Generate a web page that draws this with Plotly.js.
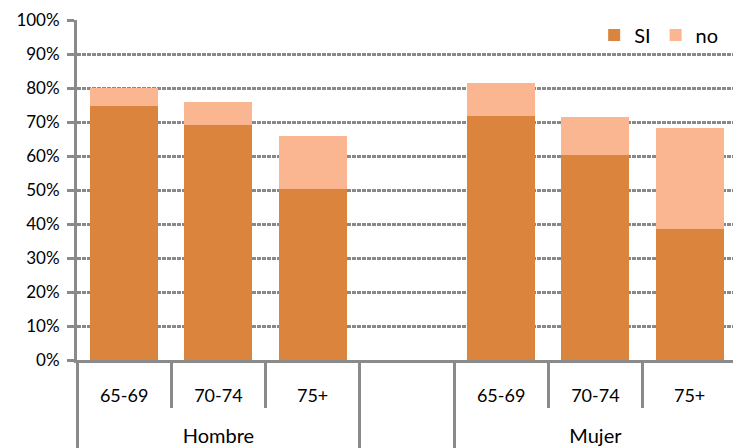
<!DOCTYPE html>
<html>
<head>
<meta charset="utf-8">
<script src="https://cdn.plot.ly/plotly-3.0.1.min.js"></script>
<style>html,body{margin:0;padding:0;background:#fff;}#chart{width:733px;height:448px;}</style>
</head>
<body>
<div id="chart"></div>
<script>
const groups = ["Hombre", "Hombre", "Hombre", " ", "Mujer", "Mujer", "Mujer"];
const ages = ["65-69", "70-74", "75+", " ", "65-69", "70-74", "75+"];
const siValues = [74.7, 69.1, 50.2, null, 71.9, 60.2, 38.6];
const noValues = [5.3, 6.7, 15.6, null, 9.6, 11.3, 29.6];
const yTickVals = [0, 10, 20, 30, 40, 50, 60, 70, 80, 90, 100];
const yTickText = ["0%", "10%", "20%", "30%", "40%", "50%", "60%", "70%", "80%", "90%", "100%"];

const FONT = "Lato, 'Open Sans', sans-serif";
const AX = "#8a8a8a";

// unique category keys built from the two label arrays
const keys = groups.map((g, i) => g + "|" + ages[i] + "|" + i);

// group label positions and boundaries derived from the arrays
const groupNames = [], groupCenters = [], groupBounds = [-0.5], innerBounds = [];
let start = 0;
for (let i = 1; i <= groups.length; i++) {
  if (i === groups.length || groups[i] !== groups[start]) {
    groupNames.push(groups[start]);
    groupCenters.push((start + i - 1) / 2);
    groupBounds.push(i - 0.5);
    for (let k = start + 1; k < i; k++) innerBounds.push(k - 0.5);
    start = i;
  }
}
const xRange = [-0.5, groups.length - 0.54];

const traces = [
  {type: "bar", name: "SI", x: keys, y: siValues,
   marker: {color: "#DB843D", line: {width: 0}}, hoverinfo: "none"},
  {type: "bar", name: "no", x: keys, y: noValues,
   marker: {color: "#F9B690", line: {width: 0}}, hoverinfo: "none"}
];

const plotTop = 20, plotBottom = 360, H = 448;
const yDomainStart = (H - plotBottom) / (H - plotTop);

const layout = {
  width: 733, height: H,
  margin: {l: 77, r: 0, t: plotTop, b: 0},
  paper_bgcolor: "#ffffff", plot_bgcolor: "#ffffff",
  barmode: "stack", bargap: 0.28,
  font: {family: FONT, size: 17, color: "#000"},
  showlegend: true,
  legend: {orientation: "h", x: 0.985, xanchor: "right", y: 0.965, yanchor: "middle",
           traceorder: "normal", font: {family: FONT, size: 20, color: "#000"},
           itemwidth: 30, bgcolor: "rgba(0,0,0,0)"},
  xaxis: {type: "category", range: xRange, tickvals: keys, ticktext: ages,
          showline: true, linecolor: AX, linewidth: 3, ticks: "",
          ticklabelstandoff: 17, showgrid: false, zeroline: false,
          tickfont: {family: FONT, size: 18, color: "#000"}},
  xaxis2: {type: "linear", overlaying: "x", anchor: "free", position: 0, side: "top",
           range: xRange, tickvals: groupCenters, ticktext: groupNames, ticks: "",
           showline: false, showgrid: false, zeroline: false, ticklabelstandoff: 1,
           tickfont: {family: FONT, size: 20, color: "#000"}},
  xaxis3: {type: "linear", overlaying: "x", anchor: "free", position: 0, side: "top",
           range: xRange, tickvals: groupBounds, ticks: "outside", ticklen: H - plotBottom,
           tickwidth: 3, tickcolor: AX, showticklabels: false,
           showline: false, showgrid: false, zeroline: false},
  xaxis4: {type: "linear", overlaying: "x", anchor: "y", side: "bottom",
           range: xRange, tickvals: innerBounds, ticks: "outside", ticklen: 47,
           tickwidth: 3, tickcolor: AX, showticklabels: false,
           showline: false, showgrid: false, zeroline: false},
  yaxis: {domain: [yDomainStart, 1], range: [0, 100], tickvals: yTickVals, ticktext: yTickText,
          showline: true, linecolor: AX, linewidth: 3,
          ticks: "outside", ticklen: 7, tickcolor: AX, tickwidth: 3, ticklabelstandoff: 4,
          showgrid: true, gridcolor: "#888888", gridwidth: 3, griddash: "4px,1px",
          zeroline: false, tickfont: {family: FONT, size: 17, color: "#000"},
          fixedrange: true}
};

// invisible helper traces so the overlay axes are drawn
traces.push({type: "scatter", x: [0], y: [null], xaxis: "x2", yaxis: "y", showlegend: false, hoverinfo: "none"});
traces.push({type: "scatter", x: [0], y: [null], xaxis: "x3", yaxis: "y", showlegend: false, hoverinfo: "none"});
traces.push({type: "scatter", x: [0], y: [null], xaxis: "x4", yaxis: "y", showlegend: false, hoverinfo: "none"});

Plotly.newPlot("chart", traces, layout, {displayModeBar: false, staticPlot: true});
</script>
</body>
</html>
